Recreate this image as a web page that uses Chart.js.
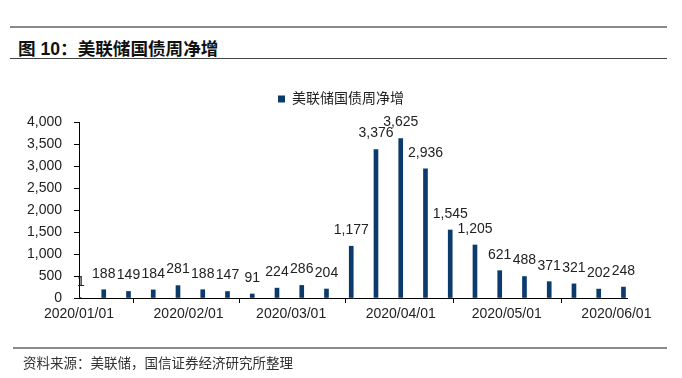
<!DOCTYPE html>
<html>
<head>
<meta charset="utf-8">
<script src="https://cdn.jsdelivr.net/npm/chart.js@4/dist/chart.umd.min.js"></script>
<style>
  html, body { margin: 0; padding: 0; background: #ffffff; }
  body { width: 682px; height: 378px; position: relative; overflow: hidden;
         font-family: "Liberation Sans", Arial, "Noto Sans CJK SC", sans-serif; }
  #wrap { position: absolute; left: 0; top: 0; width: 682px; height: 378px; }
  .hline { position: absolute; left: 10px; width: 657px; }
  #title { position: absolute; left: 18px; top: 35px; font-size: 17.6px; font-weight: bold; color: #111;
           font-family: "Liberation Sans", Arial, "Noto Sans CJK SC", sans-serif; white-space: nowrap; }
  #source { position: absolute; left: 23px; top: 353px; font-size: 13.5px; color: #333; white-space: nowrap;
            font-family: "Noto Sans CJK SC", sans-serif; line-height: 18px; }
</style>
</head>
<body>
<div class="hline" style="top:26px;height:2px;background:#8a8a8a;"></div>
<div id="title">图 10：美联储国债周净增</div>
<div class="hline" style="top:58px;height:1px;background:#444;"></div>
<div id="wrap"><canvas id="c" width="682" height="378"></canvas></div>
<div class="hline" style="top:347px;left:13px;width:654px;height:2px;background:#8a8a8a;"></div>
<div id="source">资料来源：美联储，国信证券经济研究所整理</div>
<script>
// ---- data ----
const seriesName = '美联储国债周净增';
const weekDates = ['2020-01-01','2020-01-08','2020-01-15','2020-01-22','2020-01-29',
  '2020-02-05','2020-02-12','2020-02-19','2020-02-26','2020-03-04','2020-03-11',
  '2020-03-18','2020-03-25','2020-04-01','2020-04-08','2020-04-15','2020-04-22',
  '2020-04-29','2020-05-06','2020-05-13','2020-05-20','2020-05-27','2020-06-03'];
const weeklyNetIncrease = [1,188,149,184,281,188,147,91,224,286,204,
  1177,3376,3625,2936,1545,1205,621,488,371,321,202,248];
const tickDates = ['2020-01-01','2020-02-01','2020-03-01','2020-04-01','2020-05-01','2020-06-01'];
const tickLabels = ['2020/01/01','2020/02/01','2020/03/01','2020/04/01','2020/05/01','2020/06/01'];
const axisStart = '2020-01-01';
const axisEnd = '2020-06-04';

const DAY = 86400000;
const toDay = s => Math.round((Date.parse(s + 'T00:00:00Z') - Date.parse(axisStart + 'T00:00:00Z')) / DAY);
const points = weekDates.map((d, i) => ({ x: toDay(d), y: weeklyNetIncrease[i] }));
const tickDays = tickDates.map(toDay);

const FONT = '"Liberation Sans", Arial, "Noto Sans CJK SC", sans-serif';
const fmt = v => Number(v).toLocaleString('en-US');

const valueLabels = {
  id: 'valueLabels',
  afterDatasetsDraw(chart) {
    const ctx = chart.ctx;
    const meta = chart.getDatasetMeta(0);
    ctx.save();
    ctx.font = '14px ' + FONT;
    ctx.fillStyle = '#222';
    ctx.textAlign = 'center';
    ctx.textBaseline = 'middle';
    meta.data.forEach((el, i) => {
      const v = chart.data.datasets[0].data[i].y;
      ctx.fillText(fmt(v), el.x + (i === 0 ? 2 : 0), el.y - 16);
    });
    ctx.restore();
  }
};

// adds a little space below the legend row
const legendSpacer = {
  id: 'legendSpacer',
  beforeLayout(chart) {
    const lg = chart.legend;
    if (lg && !lg._spaced) {
      const f = lg.fit;
      lg.fit = function () { f.call(this); this.height += 6; };
      lg._spaced = true;
    }
  }
};

new Chart(document.getElementById('c'), {
  type: 'bar',
  data: {
    datasets: [{
      label: seriesName,
      data: points,
      backgroundColor: '#0b3b6d',
      borderWidth: 0,
      barThickness: 4
    }]
  },
  options: {
    responsive: false,
    animation: false,
    devicePixelRatio: 1,
    layout: { padding: { top: 80, right: 0, bottom: 0, left: 0 } },
    plugins: {
      legend: {
        display: true,
        position: 'top',
        labels: {
          boxWidth: 7, boxHeight: 7, padding: 12,
          color: '#222',
          font: { size: 14, family: FONT }
        }
      },
      tooltip: { enabled: false }
    },
    scales: {
      x: {
        type: 'linear',
        offset: false,
        min: 0,
        max: toDay(axisEnd),
        afterBuildTicks: axis => { axis.ticks = tickDays.map(v => ({ value: v })); },
        afterFit: s => { s.height = 80; },
        ticks: {
          autoSkip: false,
          maxRotation: 0,
          padding: 3,
          color: '#222',
          font: { size: 14, family: FONT },
          callback: v => { const k = tickDays.indexOf(v); return k >= 0 ? tickLabels[k] : ''; }
        },
        grid: { drawOnChartArea: false, drawTicks: true, tickLength: 5, color: '#000' },
        border: { display: true, color: '#000', width: 1 }
      },
      y: {
        min: 0,
        max: 4000,
        afterFit: s => { s.width = 79; },
        ticks: {
          stepSize: 500,
          padding: 12,
          color: '#222',
          font: { size: 14, family: FONT },
          callback: v => fmt(v)
        },
        grid: { drawOnChartArea: false, drawTicks: true, tickLength: 5, color: '#000' },
        border: { display: true, color: '#000', width: 1 }
      },
      rightSpace: {
        type: 'linear',
        position: 'right',
        display: true,
        min: 0,
        max: 1,
        afterFit: s => { s.width = 55; },
        ticks: { display: false },
        grid: { display: false, drawTicks: false },
        border: { display: false }
      }
    }
  },
  plugins: [legendSpacer, valueLabels]
});
</script>
</body>
</html>
